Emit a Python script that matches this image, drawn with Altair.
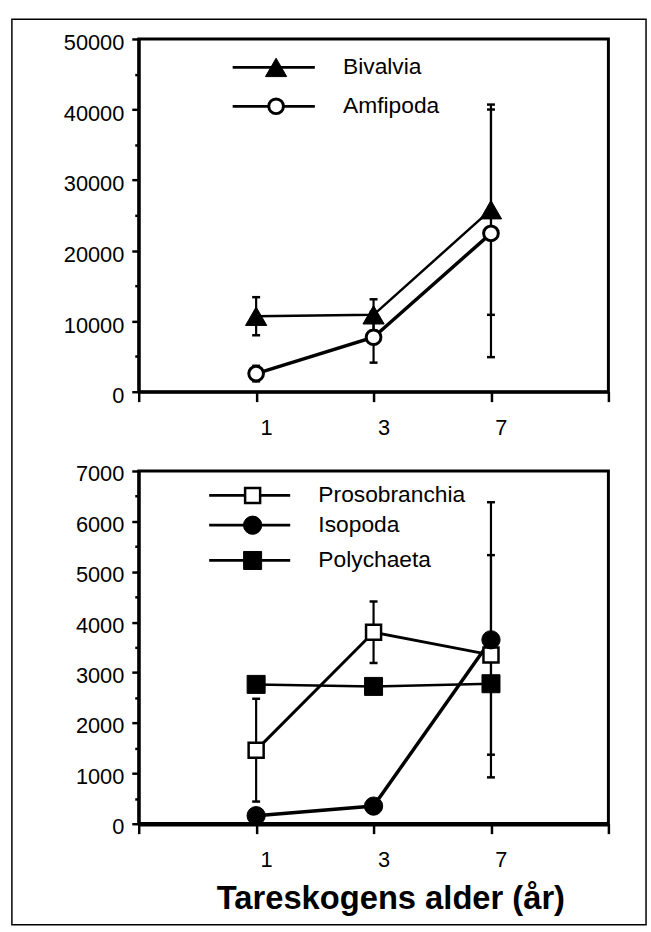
import altair as alt
import pandas as pd

# ---------------- data ----------------
ages = ["1", "3", "7"]

top_names = ["Bivalvia", "Amfipoda"]
bivalvia = [10700, 10900, 25800]
bivalvia_err = [2700, 2200, 14900]
amfipoda = [2570, 7720, 22450]
amfipoda_err = [1100, 3600, 17550]

bottom_names = ["Prosobranchia", "Isopoda", "Polychaeta"]
prosobranchia = [1460, 3800, 3350]
prosobranchia_err = [1020, 610, 1980]
isopoda = [160, 350, 3650]
isopoda_err = [0, 0, 2730]
polychaeta = [2765, 2725, 2778]
polychaeta_err = [0, 0, 0]

top_max, top_major, top_minor = 50000, 10000, 5000
bottom_max, bottom_major, bottom_minor = 7000, 1000, 500
x_title = "Tareskogens alder (år)"

# ---------------- layout / style ----------------
FONT = "Liberation Sans"
W, H = 474, 356
STYLES = {
    "Bivalvia": dict(shape="triangle-up", fill="black", size=460, sw=1, lw=2.5),
    "Amfipoda": dict(shape="circle", fill="white", size=220, sw=3, lw=3.5),
    "Prosobranchia": dict(shape="square", fill="white", size=230, sw=2.5, lw=3),
    "Isopoda": dict(shape="circle", fill="black", size=340, sw=1, lw=3.5),
    "Polychaeta": dict(shape="square", fill="black", size=330, sw=1, lw=2.5),
}
# legend placement in data units: line start/end, marker, text start, row values
TOP_LEGEND = dict(x0=-0.20, x1=0.50, xm=0.17, xt=0.74, rows=[45970, 40460])
BOTTOM_LEGEND = dict(x0=-0.40, x1=0.29, xm=-0.03, xt=0.53, rows=[6514, 5924, 5224])


def make_df(names, values, errs):
    rows = []
    for name, vals, es in zip(names, values, errs):
        for i, (a, v, e) in enumerate(zip(ages, vals, es)):
            rows.append(dict(series=name, idx=i, age=a, value=v, lo=v - e, hi=v + e, err=e))
    return pd.DataFrame(rows)


def panel(df, names, ymax, major, minor, leg, title, domain_w, label_dy, frame=False):
    label_arr = "[" + ",".join("'%s'" % a for a in ages) + "]"
    xscale = alt.Scale(domain=[-1, len(ages)], nice=False, zero=False)
    yscale = alt.Scale(domain=[0, ymax], nice=False)
    xaxis_kw = dict(
        values=list(range(-1, len(ages) + 1)),
        labelExpr="datum.value >= 0 && datum.value < %d ? %s[datum.value] : ''" % (len(ages), label_arr),
        tickSize=10, tickWidth=2.5, domainWidth=domain_w, labelFontSize=22,
        labelOffset=10, labelPadding=16, grid=False,
    )
    if title:
        xaxis_kw.update(title=title, titleFontSize=33, titleFontWeight="bold", titleFont=FONT,
                        titleX=254, titleY=86, titleAlign="center", titleBaseline="alphabetic",
                        titleColor="black")
    else:
        xaxis_kw.update(title=None)
    xaxis = alt.Axis(**xaxis_kw)
    yaxis = alt.Axis(
        values=list(range(0, ymax + 1, minor)), format="d",
        labelExpr="datum.value %% %d === 0 ? datum.label : ''" % major,
        tickSize={"condition": {"test": "datum.value %% %d === 0" % major, "value": 7}, "value": 4},
        tickWidth=2.5, domainWidth=3, labelFontSize=22, labelPadding=8,
        labelOffset=label_dy, title=None, grid=False,
    )

    def X(f):
        return alt.X(f, type="quantitative", scale=xscale, axis=xaxis)

    def Y(f):
        return alt.Y(f, type="quantitative", scale=yscale, axis=yaxis)

    base = alt.Chart(df)
    layers = []
    if frame:
        layers.append(
            alt.Chart(pd.DataFrame({"k": [0]})).mark_rect(fill="transparent", stroke="black", strokeWidth=1.5)
            .encode(x=alt.value(9 - 137), x2=alt.value(649 - 137), y=alt.value(12 - 32), y2=alt.value(926 - 32))
        )
    eb = base.transform_filter("datum.err > 0")
    layers.append(eb.mark_rule(color="black", strokeWidth=2.2).encode(x=X("idx"), y=Y("lo"), y2="hi:Q"))
    layers.append(eb.mark_tick(color="black", orient="horizontal", size=8, thickness=2.5, opacity=1)
                  .encode(x=X("idx"), y=Y("lo")))
    layers.append(eb.mark_tick(color="black", orient="horizontal", size=8, thickness=2.5, opacity=1)
                  .encode(x=X("idx"), y=Y("hi")))
    for name in names:
        st = STYLES[name]
        layers.append(base.transform_filter(alt.datum.series == name)
                      .mark_line(color="black", strokeWidth=st["lw"])
                      .encode(x=X("idx"), y=Y("value")))
    for name in names:
        st = STYLES[name]
        layers.append(base.transform_filter(alt.datum.series == name)
                      .mark_point(shape=st["shape"], filled=True, fill=st["fill"], stroke="black",
                                  strokeWidth=st["sw"], size=st["size"], opacity=1)
                      .encode(x=X("idx"), y=Y("value")))
    # legend (drawn through the same scales)
    ldf = pd.DataFrame(dict(series=names, ly=leg["rows"][:len(names)],
                            x0=[leg["x0"]] * len(names), x1=[leg["x1"]] * len(names),
                            xm=[leg["xm"]] * len(names), xt=[leg["xt"]] * len(names)))
    lbase = alt.Chart(ldf)
    layers.append(lbase.mark_rule(color="black", strokeWidth=2.8).encode(x=X("x0"), x2="x1:Q", y=Y("ly")))
    for name in names:
        st = STYLES[name]
        layers.append(lbase.transform_filter(alt.datum.series == name)
                      .mark_point(shape=st["shape"], filled=True, fill=st["fill"], stroke="black",
                                  strokeWidth=st["sw"], size=st["size"], opacity=1)
                      .encode(x=X("xm"), y=Y("ly")))
    layers.append(lbase.mark_text(align="left", baseline="middle", fontSize=23, font=FONT, color="black")
                  .encode(x=X("xt"), y=Y("ly"), text="series:N"))
    return alt.layer(*layers).properties(width=W, height=H)


top_df = make_df(top_names, [bivalvia, amfipoda], [bivalvia_err, amfipoda_err])
bottom_df = make_df(bottom_names, [prosobranchia, isopoda, polychaeta],
                    [prosobranchia_err, isopoda_err, polychaeta_err])

top = panel(top_df, top_names, top_max, top_major, top_minor, TOP_LEGEND, None, 3, 4, frame=True)
bottom = panel(bottom_df, bottom_names, bottom_max, bottom_major, bottom_minor, BOTTOM_LEGEND,
               x_title, 4.5, 3)

chart = alt.vconcat(top, bottom, spacing=80, bounds="flush").properties(
    padding={"left": 9, "top": 12, "right": 2, "bottom": 6}, background="white"
).configure_view(stroke="black", strokeWidth=3).configure_axis(
    labelFont=FONT, titleFont=FONT, labelColor="black", tickColor="black", domainColor="black"
)

chart.save("out.html", embed_options={"renderer": "svg", "actions": False})
